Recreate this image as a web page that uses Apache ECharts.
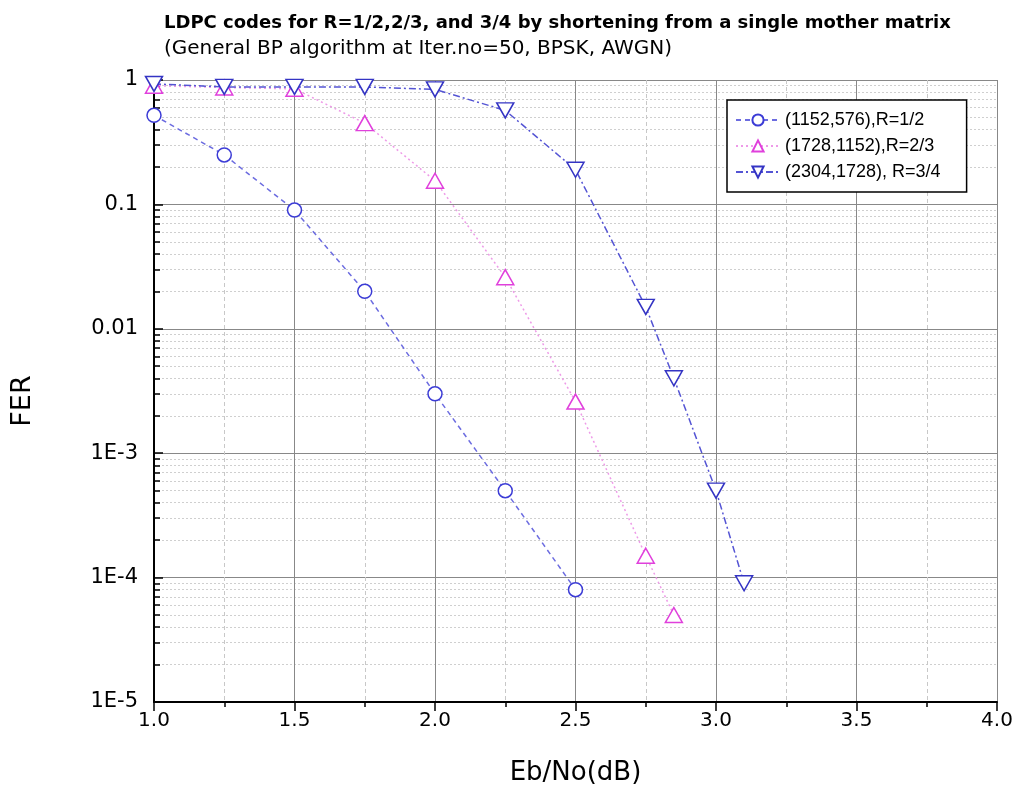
<!DOCTYPE html>
<html>
<head>
<meta charset="utf-8">
<script src="https://cdn.jsdelivr.net/npm/echarts@6/dist/echarts.min.js"></script>
<style>
  html, body { margin: 0; padding: 0; background: #fff; }
  #chart { width: 1018px; height: 796px; }
</style>
</head>
<body>
<div id="chart"></div>
<script>
// Eb/No (dB) and FER
const ebnoHalf = [1.0, 1.25, 1.5, 1.75, 2.0, 2.25, 2.5]
const ferHalf = [0.52, 0.25, 0.09, 0.02, 0.003, 5e-4, 8e-5]

const ebnoTwoThirds = [1.0, 1.25, 1.5, 1.75, 2.0, 2.25, 2.5, 2.75, 2.85]
const ferTwoThirds = [0.9, 0.87, 0.85, 0.45, 0.155, 0.026, 0.0026, 1.5e-4, 5e-5]

const ebnoThreeQuarters = [1.0, 1.25, 1.5, 1.75, 2.0, 2.25, 2.5, 2.75, 2.85, 3.0, 3.1]
const ferThreeQuarters = [0.93, 0.88, 0.88, 0.88, 0.84, 0.57, 0.19, 0.015, 0.004, 5e-4, 9e-5]

const seriesNames = ['(1152,576),R=1/2', '(1728,1152),R=2/3', '(2304,1728), R=3/4']
const yTickLabels = { 1: '1', 0.1: '0.1', 0.01: '0.01', 0.001: '1E-3', 0.0001: '1E-4', 0.00001: '1E-5' }

const zip = (xs, ys) => xs.map((x, i) => [x, ys[i]])
const font = 'Liberation Sans, Arial, sans-serif'
const wide = 'DejaVu Sans, sans-serif'

const chart = echarts.init(document.getElementById('chart'))

chart.setOption({
  animation: false,
  backgroundColor: '#fff',
  title: {
    text: 'LDPC codes for R=1/2,2/3, and 3/4 by shortening from a single mother matrix',
    subtext: '(General BP algorithm at Iter.no=50, BPSK, AWGN)',
    left: 159,
    top: 9,
    itemGap: 7,
    textStyle: { fontFamily: wide, fontSize: 18, fontWeight: 'bold', color: '#000' },
    subtextStyle: { fontFamily: wide, fontSize: 20, color: '#000' }
  },
  legend: {
    orient: 'vertical',
    left: 727,
    top: 100,
    width: 240,
    padding: [11, 26, 11, 8],
    itemGap: 8,
    itemWidth: 44,
    itemHeight: 14,
    borderColor: '#000',
    borderWidth: 1.5,
    backgroundColor: '#fff',
    textStyle: { fontFamily: font, fontSize: 18, color: '#000' },
    data: seriesNames
  },
  grid: { left: 154, right: 21, top: 80, bottom: 94 },
  xAxis: {
    type: 'value',
    min: 1,
    max: 4,
    interval: 0.5,
    name: 'Eb/No(dB)',
    nameLocation: 'middle',
    nameGap: 58,
    nameTextStyle: { fontFamily: wide, fontSize: 26, color: '#000' },
    axisLine: { onZero: false, lineStyle: { color: '#000', width: 2 } },
    axisTick: { length: 9, lineStyle: { color: '#000', width: 1.5 } },
    minorTick: { show: true, splitNumber: 2, length: 5, lineStyle: { color: '#000', width: 1.5 } },
    axisLabel: {
      fontFamily: wide, fontSize: 20, color: '#000', margin: 9,
      formatter: v => v.toFixed(1)
    },
    splitLine: { show: true, lineStyle: { color: '#888', width: 1 } },
    minorSplitLine: { show: true, lineStyle: { color: '#c8c8c8', type: [4, 3] } }
  },
  yAxis: {
    type: 'log',
    min: 1e-5,
    max: 1,
    logBase: 10,
    name: 'FER',
    nameLocation: 'middle',
    nameGap: 118,
    nameTextStyle: { fontFamily: wide, fontSize: 27, color: '#000', padding: [0, 20, 0, 0] },
    axisLine: { lineStyle: { color: '#000', width: 2 } },
    axisTick: { inside: true, length: 9, lineStyle: { color: '#000', width: 1.5 } },
    minorTick: { show: true, splitNumber: 9, length: 6, lineStyle: { color: '#000', width: 1.5 } },
    axisLabel: {
      fontFamily: wide, fontSize: 21, color: '#000', margin: 16,
      formatter: v => yTickLabels[v] !== undefined ? yTickLabels[v] : ''
    },
    splitLine: { show: true, lineStyle: { color: '#888', width: 1 } },
    minorSplitLine: { show: true, lineStyle: { color: '#cfcfcf', type: [2, 2] } }
  },
  series: [
    {
      name: seriesNames[0],
      type: 'line',
      smooth: false,
      data: zip(ebnoHalf, ferHalf),
      symbol: 'circle',
      symbolSize: 14,
      lineStyle: { color: '#6c6ce0', width: 1.5, type: [5, 4] },
      itemStyle: { color: '#fff', borderColor: '#3c3cd6', borderWidth: 1.5 },
      z: 3
    },
    {
      name: seriesNames[1],
      type: 'line',
      smooth: false,
      data: zip(ebnoTwoThirds, ferTwoThirds),
      symbol: 'triangle',
      symbolSize: [17, 15],
      lineStyle: { color: '#ee9ae8', width: 1.5, type: [2, 3] },
      itemStyle: { color: '#fff', borderColor: '#e040dc', borderWidth: 1.5 },
      z: 3
    },
    {
      name: seriesNames[2],
      type: 'line',
      smooth: false,
      data: zip(ebnoThreeQuarters, ferThreeQuarters),
      symbol: 'triangle',
      symbolRotate: 180,
      symbolSize: [17, 15],
      lineStyle: { color: '#5454d4', width: 1.5, type: [7, 3, 2, 3] },
      itemStyle: { color: '#fff', borderColor: '#3434c4', borderWidth: 1.5 },
      z: 3
    }
  ]
})
</script>
</body>
</html>
